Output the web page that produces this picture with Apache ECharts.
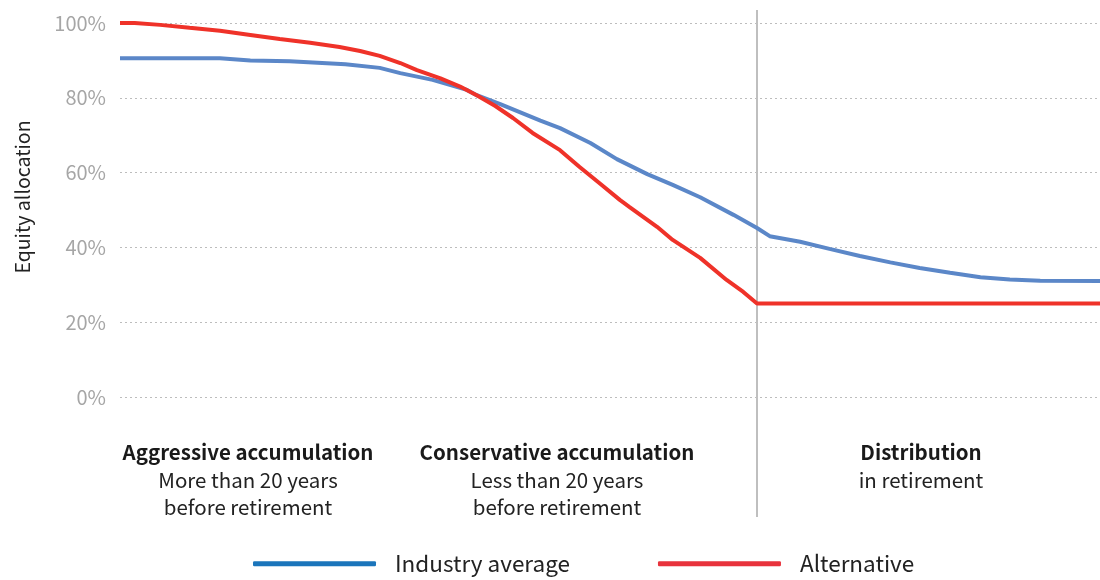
<!DOCTYPE html>
<html>
<head>
<meta charset="utf-8">
<script src="https://cdn.jsdelivr.net/npm/echarts@6/dist/echarts.min.js"></script>
<style>
  html, body { margin: 0; padding: 0; background: #fff; }
  #main { width: 1100px; height: 580px; }
</style>
</head>
<body>
<div id="main"></div>
<script>
// time line runs 0..100, retirement sits at 65
const retirementAt = 65;

const industryX = [0, 10.2, 13.3, 17.3, 23, 26.5, 28.6, 31.9, 35.4, 36.4, 38.8, 42.9, 44.9, 48, 50.7, 53.8, 56.4, 59.2, 62.6, 65, 66.3, 69.4, 72.4, 75.5, 78.6, 81.6, 84.7, 87.8, 90.8, 93.9, 100];
const industryY = [90.6, 90.6, 90.0, 89.8, 89.0, 88.0, 86.6, 84.8, 82.1, 80.7, 78.3, 73.9, 71.9, 67.9, 63.6, 59.6, 56.7, 53.4, 48.7, 45.2, 43.0, 41.5, 39.6, 37.7, 36.0, 34.5, 33.2, 32.0, 31.4, 31.1, 31.0];

const alternativeX = [0, 1.5, 4.1, 7.1, 10.2, 13.3, 16.3, 19.4, 22.4, 24.5, 26.5, 28.6, 30.3, 32.7, 34.7, 36.4, 38.3, 40.1, 42.1, 44.9, 46.9, 49, 51, 52, 54.8, 56.4, 59.2, 61.9, 63.6, 65, 100];
const alternativeY = [100, 100, 99.5, 98.7, 97.9, 96.8, 95.7, 94.7, 93.6, 92.5, 91.2, 89.3, 87.4, 85.2, 83.0, 80.7, 77.8, 74.6, 70.6, 66.0, 61.5, 57.0, 52.7, 50.8, 45.5, 42.0, 37.2, 31.3, 28.1, 25, 25];

const phaseTitles = ['Aggressive accumulation', 'Conservative accumulation', 'Distribution'];
const phaseNotes = [['More than 20 years', 'before retirement'], ['Less than 20 years', 'before retirement'], ['in retirement']];
const phaseCenters = [248, 557, 921];

const FONT = '"Noto Sans CJK SC", "Noto Sans", sans-serif';

const zip = (xs, ys) => xs.map((x, i) => [x, ys[i]]);

const chart = echarts.init(document.getElementById('main'));

const option = {
  animation: false,
  textStyle: { fontFamily: FONT },
  grid: { left: 120, right: 0, top: 23, bottom: 183 },
  xAxis: {
    type: 'value', min: 0, max: 100,
    show: false
  },
  yAxis: {
    type: 'value', min: 0, max: 100, interval: 20,
    name: 'Equity allocation',
    nameLocation: 'middle',
    nameGap: 88,
    nameTextStyle: { fontSize: 19.5, color: '#222', fontFamily: FONT, padding: [0, 0, 0, 26] },
    axisLine: { show: false },
    axisTick: { show: false },
    axisLabel: { formatter: '{value}%', color: '#a6a6a6', fontSize: 20, margin: 14, fontFamily: FONT },
    splitLine: { lineStyle: { type: [2, 3], color: '#bdbdbd', width: 1 } }
  },
  legend: {
    bottom: 0,
    left: 248,
    itemWidth: 123,
    itemHeight: 5,
    itemGap: 88,
    icon: 'roundRect',
    textStyle: { fontSize: 22.5, color: '#222', fontFamily: FONT, padding: [0, 0, 0, 14] },
    data: [
      { name: 'Industry average', itemStyle: { color: '#1b75bb' } },
      { name: 'Alternative', itemStyle: { color: '#e8333c' } }
    ]
  },
  series: [
    {
      name: 'Industry average',
      type: 'line',
      data: zip(industryX, industryY),
      showSymbol: false,
      lineStyle: { color: '#5b87c8', width: 4 },
      itemStyle: { color: '#5b87c8' },
      z: 3
    },
    {
      name: 'Alternative',
      type: 'line',
      data: zip(alternativeX, alternativeY),
      showSymbol: false,
      lineStyle: { color: '#ef3229', width: 4 },
      itemStyle: { color: '#ef3229' },
      z: 4
    }
  ]
};

chart.setOption(option);

// retirement divider and phase captions
const divX = chart.convertToPixel({ gridIndex: 0 }, [retirementAt, 0])[0];
const graphics = [{
  type: 'line',
  shape: { x1: divX, y1: 10, x2: divX, y2: 517 },
  style: { stroke: '#bfbfbf', lineWidth: 2 },
  z: 1
}];
phaseTitles.forEach((title, i) => {
  graphics.push({
    type: 'text',
    x: phaseCenters[i], y: 452,
    style: { text: title, fontSize: 20.5, fontWeight: 'bold', fill: '#1a1a1a', fontFamily: FONT, align: 'center', verticalAlign: 'middle' }
  });
  phaseNotes[i].forEach((line, j) => {
    graphics.push({
      type: 'text',
      x: phaseCenters[i], y: 480 + j * 27,
      style: { text: line, fontSize: 20.5, fill: '#222', fontFamily: FONT, align: 'center', verticalAlign: 'middle' }
    });
  });
});
chart.setOption({ graphic: graphics });
</script>
</body>
</html>
